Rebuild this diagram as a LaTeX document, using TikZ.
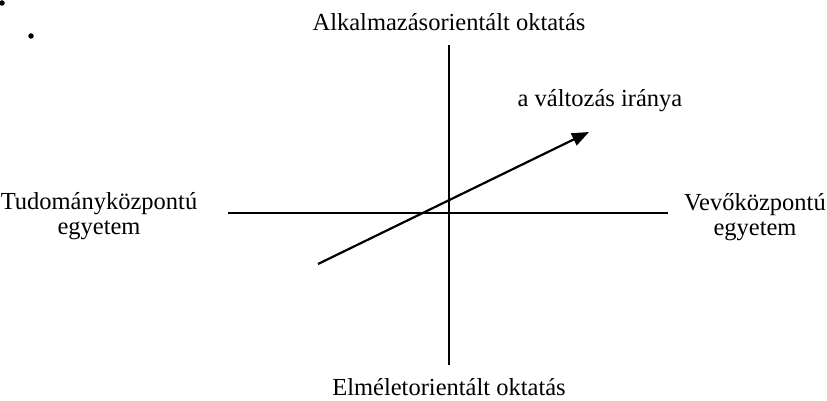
\documentclass[tikz,border=0pt]{standalone}
\usepackage{fontspec}
\setmainfont{Liberation Serif}
\usetikzlibrary{arrows.meta}
\begin{document}
\begin{tikzpicture}[x=1pt,y=-1pt,
  axis/.style={line width=2.2pt},
  lbl/.style={font=\fontsize{24.5}{25}\selectfont, inner sep=0pt, align=center},
  speck/.style={fill=black, circle, inner sep=0pt, minimum size=5.5pt}]
\useasboundingbox (0,0) rectangle (827,401);
% axes end points
\coordinate (vtop) at (449,45);
\coordinate (vbot) at (449,365);
\coordinate (hl) at (228,213);
\coordinate (hr) at (668,213);
\coordinate (as) at (318,264);
\coordinate (ae) at (589,132);
\draw[axis] (vtop) -- (vbot);
\draw[axis] (hl) -- (hr);
\draw[axis, -{Triangle[length=17pt,width=13pt]}] (as) -- (ae);
% labels
\node[lbl] (top) at (449,22) {Alkalmazásorientált oktatás};
\node[lbl] (bot) at (449,387) {Elméletorientált oktatás};
\node[lbl] (left) at (99,216) {Tudományközpontú\\egyetem};
\node[lbl] (right) at (755,217) {Vevőközpontú\\egyetem};
\node[lbl] (dir) at (600,101) {a változás iránya};
% specks
\node[speck] (s1) at (2,3) {};
\node[speck] (s2) at (31,36) {};
\end{tikzpicture}
\end{document}
